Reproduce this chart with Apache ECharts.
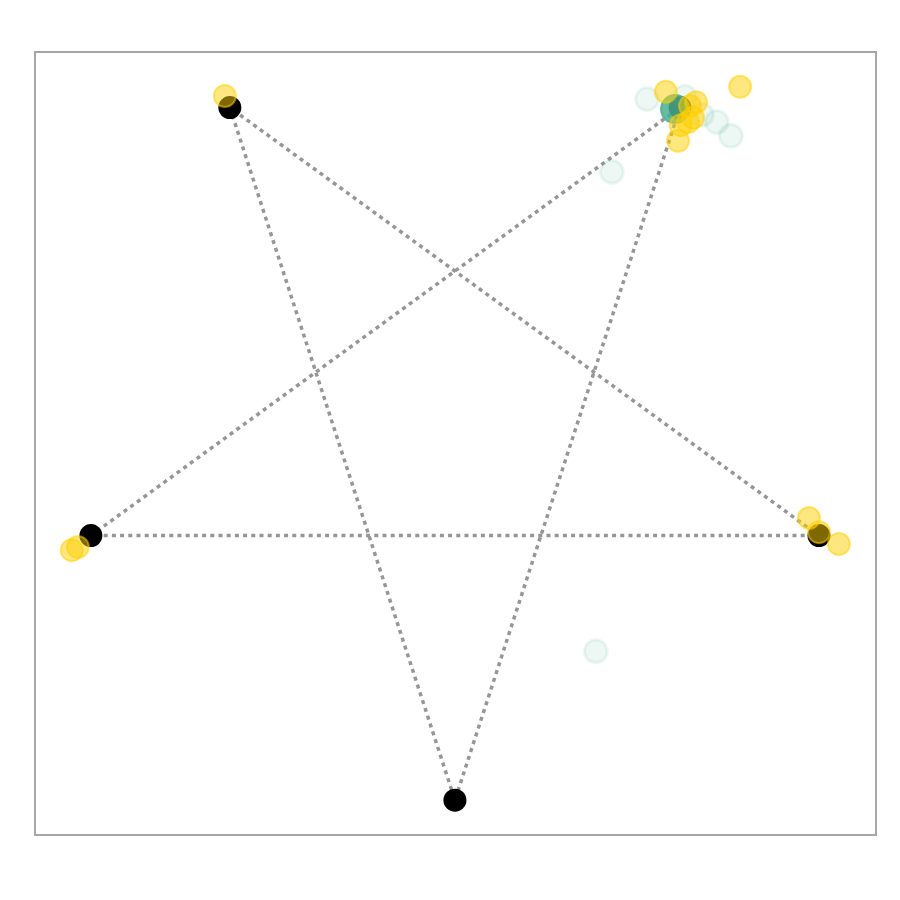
<!DOCTYPE html>
<html>
<head>
<meta charset="utf-8">
<script src="https://cdn.jsdelivr.net/npm/echarts@6/dist/echarts.min.js"></script>
<style>html,body{margin:0;padding:0;background:#fff}#c{width:900px;height:900px}</style>
</head>
<body>
<div id="c"></div>
<script>
// Pentagon vertices (data units)
const vertices = [
  [0.000, -1.000],   // bottom
  [0.951, -0.309],   // right
  [0.588, 0.809],    // top-right
  [-0.588, 0.809],   // top-left
  [-0.951, -0.309]   // left
];
// Star path: TL -> B -> TR -> L -> R -> TL
const starPath = [
  [-0.588, 0.809],
  [0.000, -1.000],
  [0.588, 0.809],
  [-0.951, -0.309],
  [0.951, -0.309],
  [-0.588, 0.809]
];
const yellowPoints = [
  [-0.601, 0.839],
  [-1.001, -0.347],
  [-0.985, -0.339],
  [0.925, -0.263],
  [0.951, -0.300],
  [1.003, -0.331],
  [0.551, 0.850],
  [0.745, 0.863],
  [0.630, 0.823],
  [0.614, 0.813],
  [0.609, 0.771],
  [0.590, 0.763],
  [0.583, 0.722],
  [0.622, 0.782]
];
const tealFaint = [
  [0.502, 0.831],
  [0.410, 0.641],
  [0.684, 0.771],
  [0.721, 0.735],
  [0.601, 0.837],
  [0.645, 0.790],
  [0.368, -0.611]
];
const tealSolid = [
  [0.575, 0.805]
];

const chart = echarts.init(document.getElementById('c'));
chart.setOption({
  animation: false,
  backgroundColor: '#ffffff',
  grid: {
    left: 35, top: 52, width: 841, height: 783,
    show: true, borderColor: '#a6a6a6', borderWidth: 2, backgroundColor: 'transparent'
  },
  xAxis: { type: 'value', min: -1.097, max: 1.100, show: false, splitLine: { show: false } },
  yAxis: { type: 'value', min: -1.091, max: 0.954, show: false, splitLine: { show: false } },
  series: [
    {
      type: 'line', data: starPath, showSymbol: false, symbol: 'none',
      lineStyle: { color: '#969696', width: 3.5, type: [4, 4.2], cap: 'butt' },
      silent: true, z: 1
    },
    {
      type: 'scatter', data: vertices, symbolSize: 23,
      itemStyle: { color: '#000000', opacity: 1 }, z: 2
    },
    {
      type: 'scatter', data: tealFaint, symbolSize: 23,
      itemStyle: { color: '#4CAF90', borderColor: '#4CAF90', borderWidth: 3, opacity: 0.1 }, z: 3
    },
    {
      type: 'scatter', data: tealSolid, symbolSize: 28,
      itemStyle: { color: '#4CAF90', borderColor: '#4CAF90', borderWidth: 2, opacity: 0.85 }, z: 3
    },
    {
      type: 'scatter', data: yellowPoints, symbolSize: 22,
      itemStyle: { color: '#FFD000', borderColor: '#FFD000', borderWidth: 2, opacity: 0.5 }, z: 4
    }
  ]
});
</script>
</body>
</html>
